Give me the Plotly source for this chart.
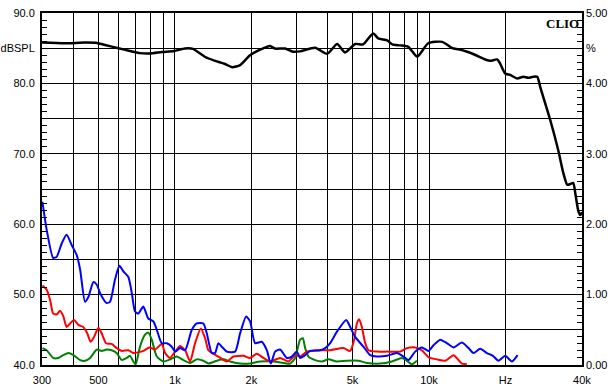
import plotly.graph_objects as go

# ---- data (Hz, dB) ----
spl_f = [300, 369, 443, 494, 531, 600, 666, 729, 798, 889, 993, 1095, 1178, 1316, 1441, 1577, 1680, 1806,
         1976, 2202, 2368, 2477, 2713, 2916, 3110, 3565, 3973, 4351, 4676, 5122, 5508, 6030, 6315, 6850,
         7170, 7700, 8290, 8990, 9930, 11280, 12350, 13070, 14140, 15300, 16640, 17410, 18550, 19060,
         19950, 20880, 22250, 23490, 24580, 25720, 26670, 27390, 28150, 30000, 32260, 33760, 35000,
         35970, 36960, 37640, 38680, 39370, 40000]
spl_db = [85.8, 85.7, 85.8, 85.75, 85.45, 85.0, 84.6, 84.3, 84.25, 84.45, 84.6, 84.95, 84.9, 83.75, 83.2,
          82.75, 82.3, 82.6, 84.0, 84.9, 85.3, 84.95, 84.95, 84.5, 84.55, 85.07, 84.2, 85.6, 84.4, 85.6,
          85.55, 87.1, 86.4, 86.1, 85.55, 85.4, 85.2, 83.8, 85.7, 85.9, 85.0, 84.85, 84.5, 84.0, 83.4,
          83.2, 83.4, 82.8, 81.4, 81.2, 80.7, 80.95, 80.8, 80.95, 80.95, 79.5, 78.1, 74.8, 70.5, 67.3,
          65.6, 65.7, 65.85, 64.4, 61.9, 61.3, 61.7]

h2_f = [301, 313, 332, 343, 359, 375, 393, 411, 424, 443, 457, 478, 493, 508, 539, 556, 581, 605, 627, 656,
        677, 697, 718, 751, 786, 823, 849, 888, 929, 972, 1002, 1048, 1097, 1166, 1219, 1294, 1335, 1397,
        1439, 1483, 1530, 1601, 1726, 1806, 1907, 1977, 2069, 2198, 2300, 2385, 2480, 2595, 2758, 2886,
        3019, 3110, 3256, 3406, 3730, 3904, 4083, 4337, 4722, 4896, 5122, 5522, 5868, 6235, 6828, 7475,
        7935, 8303, 8824, 9375, 9954, 10413, 11070, 11763, 12491, 13475, 14306, 14967, 15905, 16902,
        17845, 18776, 19954, 21205, 22311]
h2_db = [63.2, 59.2, 55.2, 55.4, 57.3, 58.5, 57.0, 55.6, 53.5, 49.0, 49.7, 51.8, 51.4, 50.2, 48.8, 49.0,
         52.1, 54.1, 53.3, 52.5, 50.2, 47.6, 47.3, 48.3, 46.6, 46.2, 45.0, 43.1, 43.1, 42.6, 41.9, 42.4,
         42.1, 45.0, 45.9, 45.9, 44.5, 41.7, 41.7, 43.1, 42.6, 41.9, 41.9, 44.5, 46.9, 46.2, 43.1, 43.3,
         42.1, 40.2, 41.9, 42.2, 41.0, 41.2, 41.9, 41.0, 41.4, 42.0, 42.1, 42.4, 43.1, 44.7, 46.4, 45.4,
         44.0, 42.6, 41.4, 41.2, 41.3, 41.7, 41.2, 40.7, 41.9, 42.5, 42.0, 42.8, 43.6, 43.1, 42.5, 43.2,
         42.4, 41.7, 42.3, 41.7, 41.3, 40.6, 41.3, 40.5, 41.4]

h3_f = [301, 313, 323, 332, 343, 353, 364, 375, 387, 401, 417, 436, 452, 466, 481, 500, 515, 536, 564, 590,
        618, 656, 686, 718, 751, 794, 836, 888, 915, 957, 1002, 1048, 1097, 1148, 1201, 1265, 1315, 1355,
        1417, 1483, 1601, 1699, 1861, 1977, 2101, 2231, 2370, 2595, 2798, 2973, 3110, 3306, 3730, 4083,
        4607, 4896, 5075, 5202, 5311, 5443, 5609, 5778, 6235, 6828, 7700, 8184, 8824, 9375, 9954, 10742,
        11583, 12491, 13066, 13475, 14097]
h3_db = [51.3, 50.7, 49.2, 47.3, 47.2, 47.7, 46.9, 45.4, 45.9, 46.4, 45.7, 45.4, 44.5, 43.3, 44.0, 45.3,
         44.5, 43.1, 43.0, 42.4, 42.0, 42.1, 41.7, 41.8, 42.0, 42.5, 42.2, 43.0, 41.7, 41.0, 41.9, 42.7,
         42.1, 40.5, 43.1, 45.2, 43.8, 42.1, 41.6, 41.2, 40.5, 41.2, 41.3, 41.0, 41.6, 41.0, 40.5, 41.0,
         40.5, 41.4, 41.2, 41.9, 42.1, 42.1, 42.4, 42.0, 43.6, 45.9, 46.5, 45.4, 43.1, 42.1, 41.9, 41.9,
         41.9, 42.4, 42.5, 42.1, 41.1, 40.8, 40.6, 41.4, 40.7, 40.2, 40.1]

h4_f = [301, 313, 332, 348, 364, 381, 399, 424, 443, 464, 493, 515, 539, 564, 590, 618, 647, 666, 686, 701,
        729, 763, 786, 811, 849, 901, 957, 1017, 1080, 1148, 1219, 1294, 1355, 1462, 1552, 1649, 1806,
        1977, 2165, 2442, 2674, 2841, 2973, 3063, 3110, 3188, 3256, 3354, 3565, 3788, 4022, 4337, 4752,
        5277, 5695, 6426, 7145, 7821, 8184, 8563, 8962]
h4_db = [42.4, 42.1, 41.0, 41.0, 41.4, 41.7, 41.4, 40.7, 40.6, 41.0, 42.2, 42.0, 42.2, 42.1, 41.7, 40.7,
         41.0, 41.3, 40.5, 40.1, 42.6, 44.3, 44.6, 43.6, 41.2, 40.5, 40.8, 41.2, 40.7, 40.3, 40.8, 40.6,
         40.2, 40.6, 40.8, 40.5, 40.2, 40.2, 40.5, 40.5, 40.3, 40.2, 41.0, 42.8, 43.6, 43.8, 42.4, 41.2,
         40.7, 40.5, 40.8, 40.5, 40.6, 40.6, 40.3, 40.2, 40.5, 41.0, 40.6, 40.1, 40.6]

x_tickvals = [300, 400, 500, 600, 700, 800, 900, 1000, 2000, 3000, 4000, 5000, 6000, 7000, 8000, 9000,
              10000, 20000, 40000]
x_ticktext = ["300", "", "500", "", "", "", "", "1k", "2k", "", "", "5k", "", "", "", "", "10k", "Hz", "40k"]
y_tickvals = [40, 45, 50, 55, 60, 65, 70, 75, 80, 85, 90]
y_ticktext = ["40.0", "", "50.0", "", "60.0", "", "70.0", "", "80.0", "dBSPL", "90.0"]
y_minor_vals = list(range(40, 91))
y2_labels = {0: "0.00", 10: "1.00", 20: "2.00", 30: "3.00", 40: "4.00", 45: "%", 50: "5.00"}
y2_tickvals = [i / 10 for i in range(51)]
y2_ticktext = [y2_labels.get(i, "") for i in range(51)]

FONT = dict(family="Liberation Sans, Arial, sans-serif", size=11, color="#000000")

fig = go.Figure()
for f, d, c, w in [(h4_f, h4_db, "#008000", 2), (h3_f, h3_db, "#ff0000", 2),
                   (h2_f, h2_db, "#0000ff", 2), (spl_f, spl_db, "#000000", 2.5)]:
    fig.add_trace(go.Scatter(x=f, y=d, mode="lines",
                             line=dict(color=c, width=w, shape="spline", smoothing=0.6),
                             cliponaxis=True, hoverinfo="skip"))

# dummy traces to activate the extra axes
fig.add_trace(go.Scatter(x=[300], y=[0], yaxis="y2", mode="markers",
                         marker=dict(opacity=0), hoverinfo="skip"))
fig.add_trace(go.Scatter(x=[300], y=[40], yaxis="y3", mode="markers",
                         marker=dict(opacity=0), hoverinfo="skip"))

fig.update_layout(
    width=613, height=391,
    margin=dict(l=42, r=31, t=13, b=26, autoexpand=False),
    paper_bgcolor="white", plot_bgcolor="white",
    showlegend=False,
    font=FONT,
    xaxis=dict(type="log", range=[2.4771, 4.6021], tickmode="array",
               tickvals=x_tickvals, ticktext=x_ticktext, showgrid=True,
               gridcolor="#000000", gridwidth=1, showline=True, linecolor="#000000",
               linewidth=2, mirror=True, ticks="", zeroline=False, tickfont=FONT,
               ticklabelstandoff=4, automargin=False),
    yaxis=dict(range=[40, 90], tickmode="array", tickvals=y_tickvals, ticktext=y_ticktext,
               showgrid=True, gridcolor="#000000", gridwidth=1, showline=True,
               linecolor="#000000", linewidth=2, mirror=True, ticks="", zeroline=False,
               tickfont=FONT, ticklabelstandoff=3, automargin=False),
    yaxis3=dict(range=[40, 90], overlaying="y", side="left", tickmode="array",
                tickvals=y_minor_vals, showticklabels=False, showgrid=False,
                zeroline=False, showline=False, ticks="inside", ticklen=5, tickwidth=1,
                tickcolor="#000000", automargin=False),
    yaxis2=dict(range=[0, 5], overlaying="y", side="right", tickmode="array",
                tickvals=y2_tickvals, ticktext=y2_ticktext, showgrid=False,
                zeroline=False, showline=False, ticks="inside", ticklen=5, tickwidth=1,
                tickcolor="#000000", tickfont=FONT,
                ticklabelstandoff=3, automargin=False),
    annotations=[dict(text="<b>CLIO</b>", x=1, y=1, xref="paper", yref="paper",
                      xanchor="right", yanchor="top", showarrow=False, xshift=-1, yshift=-1,
                      font=dict(family="Liberation Serif, Times New Roman, serif",
                                size=13, color="#000000"))],
)

fig.write_html("out.html")
